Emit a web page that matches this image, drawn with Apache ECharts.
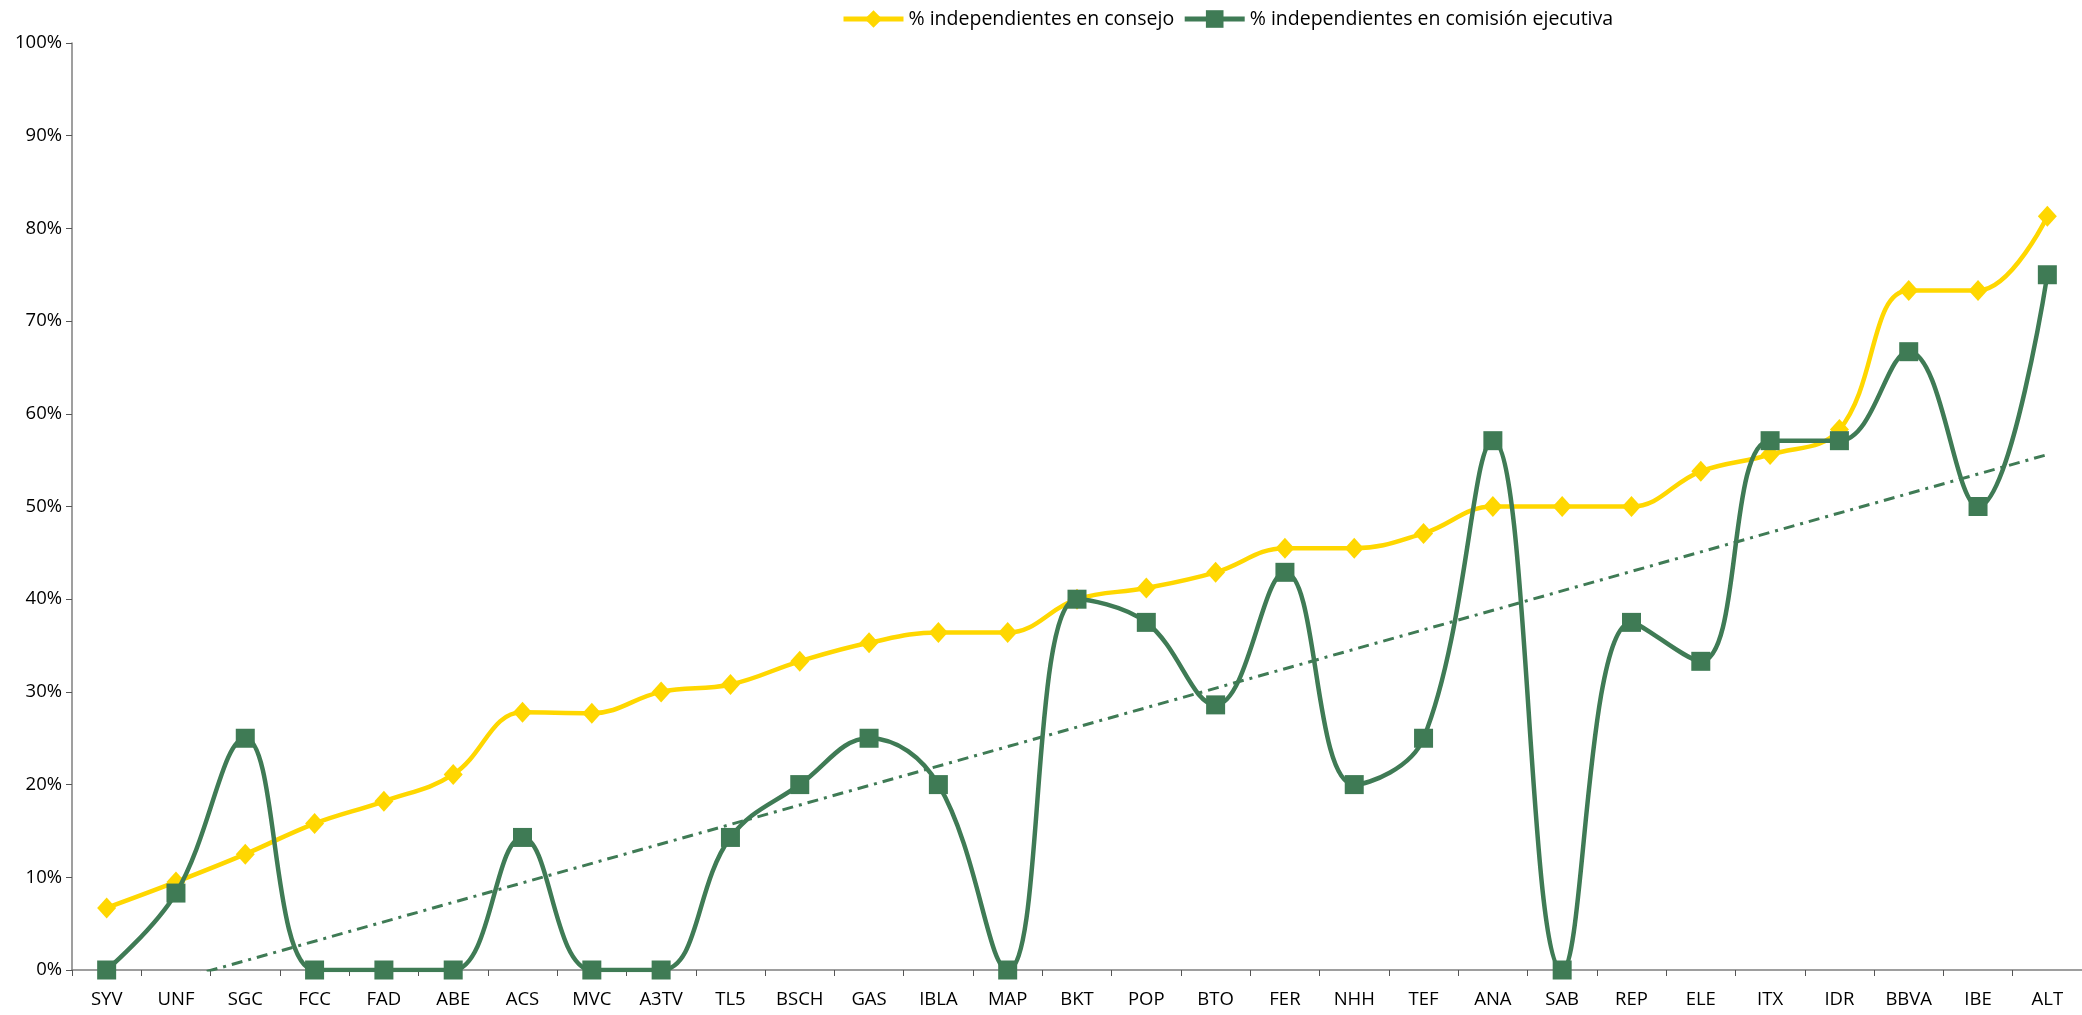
<!DOCTYPE html>
<html>
<head>
<meta charset="utf-8">
<title>Independientes</title>
<script src="https://cdn.jsdelivr.net/npm/echarts@6/dist/echarts.min.js"></script>
<style>
  html, body { margin: 0; padding: 0; background: #fff; }
  #chart { width: 2082px; height: 1015px; }
</style>
</head>
<body>
<div id="chart"></div>
<script>
const categories = ["SYV", "UNF", "SGC", "FCC", "FAD", "ABE", "ACS", "MVC", "A3TV", "TL5",
  "BSCH", "GAS", "IBLA", "MAP", "BKT", "POP", "BTO", "FER", "NHH", "TEF",
  "ANA", "SAB", "REP", "ELE", "ITX", "IDR", "BBVA", "IBE", "ALT"];
// % independientes en consejo
const consejo = [6.7, 9.5, 12.5, 15.8, 18.2, 21.1, 27.8, 27.7, 30.0, 30.8,
  33.3, 35.3, 36.4, 36.4, 40.0, 41.2, 42.9, 45.5, 45.5, 47.1,
  50.0, 50.0, 50.0, 53.8, 55.6, 58.3, 73.3, 73.3, 81.3];
// % independientes en comisión ejecutiva
const comision = [0, 8.3, 25.0, 0, 0, 0, 14.3, 0, 0, 14.3,
  20.0, 25.0, 20.0, 0, 40.0, 37.5, 28.6, 42.9, 20.0, 25.0,
  57.1, 0, 37.5, 33.3, 57.1, 57.1, 66.7, 50.0, 75.0];
// linear trend of comision, read at first and last category
const trendEnds = [-3.2, 55.6];

const yellow = "#FFD700";
const green = "#3F7B55";
const font = "'Open Sans', 'Noto Sans', sans-serif";

const chart = echarts.init(document.getElementById("chart"));
chart.setOption({
  animation: false,
  backgroundColor: "#fff",
  textStyle: { fontFamily: font },
  grid: { left: 72, right: 0, top: 43, bottom: 45 },
  legend: {
    top: 4,
    left: 836,
    itemGap: 8,
    itemWidth: 60,
    itemHeight: 22,
    textStyle: { fontFamily: font, fontSize: 19.5, color: "#000" },
    data: [
      { name: "% independientes en consejo", lineStyle: { width: 5 } },
      { name: "% independientes en comisión ejecutiva", lineStyle: { width: 5 } },
    ],
  },
  xAxis: {
    type: "category",
    data: categories,
    boundaryGap: true,
    axisLine: { lineStyle: { color: "#7f7f7f", width: 1.5 } },
    axisTick: { show: true, length: 6, lineStyle: { color: "#555" } },
    axisLabel: { color: "#000", fontSize: 18.5, fontFamily: font, margin: 20, interval: 0 },
  },
  yAxis: {
    type: "value",
    min: 0,
    max: 100,
    interval: 10,
    splitLine: { show: false },
    axisLine: { show: true, lineStyle: { color: "#7f7f7f", width: 1.5 } },
    axisTick: { show: true, length: 6, lineStyle: { color: "#555" } },
    axisLabel: { color: "#000", fontSize: 18.5, fontFamily: font, formatter: "{value}%", margin: 10 },
  },
  series: [
    {
      name: "trend",
      type: "line",
      data: [[0, trendEnds[0]], [categories.length - 1, trendEnds[1]]],
      showSymbol: false,
      symbol: "none",
      silent: true,
      lineStyle: { color: green, width: 3, type: [11, 6, 3, 6] },
      z: 1,
    },
    {
      name: "% independientes en consejo",
      type: "line",
      data: consejo,
      smooth: 0.4,
      symbol: "diamond",
      symbolSize: [19, 21],
      itemStyle: { color: yellow },
      lineStyle: { color: yellow, width: 4.5 },
      z: 2,
    },
    {
      name: "% independientes en comisión ejecutiva",
      type: "line",
      data: comision,
      smooth: 0.4,
      symbol: "rect",
      symbolSize: 19,
      itemStyle: { color: green },
      lineStyle: { color: green, width: 4.5 },
      z: 3,
    },
  ],
});
</script>
</body>
</html>
